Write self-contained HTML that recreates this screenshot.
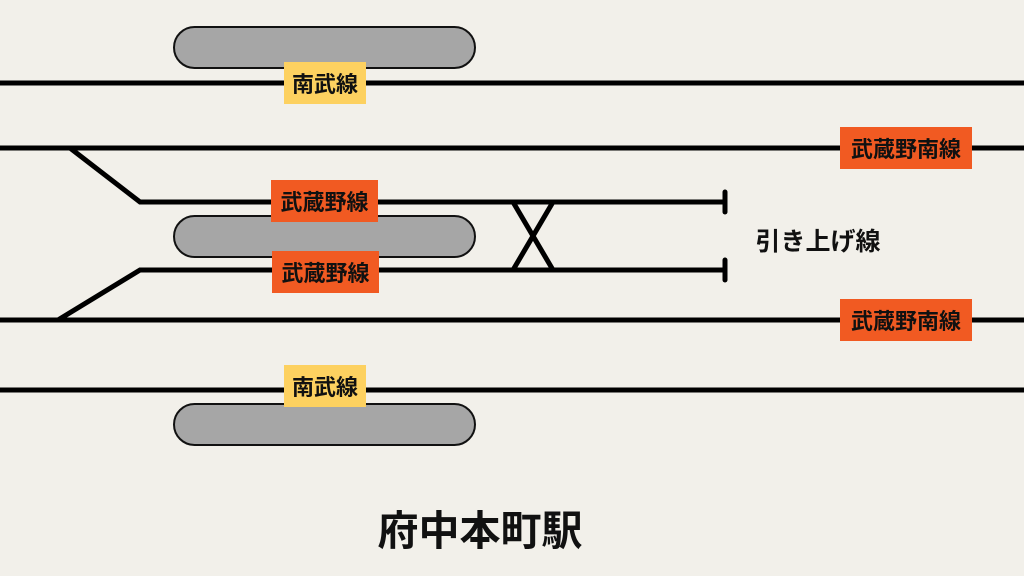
<!DOCTYPE html>
<html><head><meta charset="utf-8"><style>
html,body{margin:0;padding:0;}
body{width:1024px;height:576px;background:#f2f0ea;position:relative;overflow:hidden;font-family:"Liberation Sans","Noto Sans CJK JP",sans-serif;}
.l{position:absolute;display:flex;align-items:center;justify-content:center;font-weight:bold;font-size:22px;color:#111;}
.y{background:#fdd160;}
.o{background:#f15a22;}
</style></head><body>
<svg width="1024" height="576" style="position:absolute;left:0;top:0">
<g fill="#a6a6a6" stroke="#111" stroke-width="2">
<rect x="174" y="27" width="301" height="41" rx="20.5"/>
<rect x="174" y="216" width="301" height="41" rx="20.5"/>
<rect x="174" y="404" width="301" height="41" rx="20.5"/>
</g>
<g stroke="#000" stroke-width="5" fill="none" stroke-linecap="butt">
<line x1="0" y1="83" x2="1024" y2="83"/>
<line x1="0" y1="148" x2="1024" y2="148"/>
<line x1="0" y1="320" x2="1024" y2="320"/>
<line x1="0" y1="390" x2="1024" y2="390"/>
<polyline points="70,148 140,202 725,202"/>
<polyline points="58,320 140,270 725,270"/>
<line x1="513" y1="202" x2="553" y2="270"/>
<line x1="553" y1="202" x2="513" y2="270"/>
<line x1="725" y1="192" x2="725" y2="212" stroke-linecap="round"/>
<line x1="725" y1="260" x2="725" y2="280" stroke-linecap="round"/>
</g>
</svg>
<div class="l y" style="left:284px;top:62px;width:82px;height:42px;">南武線</div>
<div class="l y" style="left:284px;top:365px;width:82px;height:42px;">南武線</div>
<div class="l o" style="left:840px;top:127px;width:132px;height:42px;">武蔵野南線</div>
<div class="l o" style="left:840px;top:299px;width:132px;height:42px;">武蔵野南線</div>
<div class="l o" style="left:271px;top:180px;width:107px;height:42px;">武蔵野線</div>
<div class="l o" style="left:272px;top:251px;width:107px;height:42px;">武蔵野線</div>
<div class="l" style="left:748px;top:222px;width:140px;height:36px;font-size:25px;font-weight:bold;">引き上げ線</div>
<div class="l" style="left:360px;top:502px;width:240px;height:50px;font-size:41px;">府中本町駅</div>
</body></html>
